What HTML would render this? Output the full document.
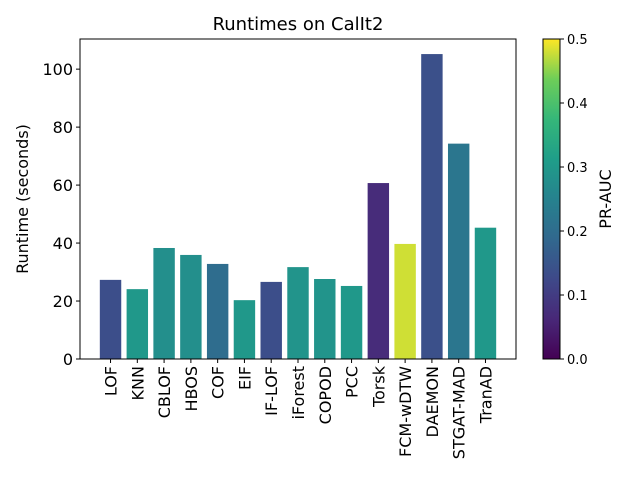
<!DOCTYPE html>
<html><head><meta charset="utf-8"><style>
body{margin:0;background:#fff;}
svg text{font-family:"DejaVu Sans","Liberation Sans",sans-serif;fill:#000;}
</style></head><body>
<svg id="chart" width="640" height="480" xmlns="http://www.w3.org/2000/svg">
<rect width="640" height="480" fill="#fff"/>
<text x="298" y="30" font-size="18" text-anchor="middle">Runtimes on CalIt2</text>
<g id="bars"></g>
<g id="xticks"></g>
<g id="yticks"></g>
<rect x="80" y="39" width="436" height="320" fill="none" stroke="#000" stroke-width="1"/>
<text transform="translate(28,199) rotate(-90)" font-size="16" text-anchor="middle">Runtime (seconds)</text>
<defs><linearGradient id="vir" x1="0" y1="1" x2="0" y2="0">
<stop offset="0" stop-color="#440154"/><stop offset="0.125" stop-color="#482878"/><stop offset="0.25" stop-color="#3e4989"/><stop offset="0.375" stop-color="#31688e"/><stop offset="0.5" stop-color="#26828e"/><stop offset="0.625" stop-color="#1f9e89"/><stop offset="0.75" stop-color="#35b779"/><stop offset="0.875" stop-color="#6ece58"/><stop offset="1" stop-color="#fde725"/>
</linearGradient></defs>
<rect x="543" y="39" width="17" height="320" fill="url(#vir)" stroke="#000" stroke-width="1"/>
<g id="cticks"></g>
<text transform="translate(611,199) rotate(-90)" font-size="16" text-anchor="middle">PR-AUC</text>
</svg>
<script>
const categories=["LOF","KNN","CBLOF","HBOS","COF","EIF","IF-LOF","iForest","COPOD","PCC","Torsk","FCM-wDTW","DAEMON","STGAT-MAD","TranAD"];
const runtimes=[27.3,24.1,38.3,35.9,32.8,20.3,26.6,31.7,27.6,25.2,60.7,39.7,105.2,74.3,45.3];
const prauc=[0.135,0.3,0.28,0.28,0.2,0.3,0.135,0.29,0.29,0.3,0.07,0.48,0.14,0.22,0.3];
const yTicks=[0,20,40,60,80,100];
const cTicks=[0,0.1,0.2,0.3,0.4,0.5];
const NS="http://www.w3.org/2000/svg";
const X0=80,X1=516,Y0=359,Y1=39,YMAX=110.4;
const xs=i=>X0+(i+1.14)*(X1-X0)/16.28;
const ys=v=>Y0-v*(Y0-Y1)/YMAX;
const bw=0.8*(X1-X0)/16.28;
const stops=[[68,1,84],[72,40,120],[62,73,137],[49,104,142],[38,130,142],[31,158,137],[53,183,121],[110,206,88],[253,231,37]];
function vir(t){t=Math.max(0,Math.min(1,t))*8;const i=Math.min(7,Math.floor(t)),f=t-i;const a=stops[i],b=stops[i+1];return "rgb("+a.map((c,k)=>Math.round(c+(b[k]-c)*f)).join(",")+")";}
function mk(tag,attrs,parent){const e=document.createElementNS(NS,tag);for(const k in attrs)e.setAttribute(k,attrs[k]);parent.appendChild(e);return e;}
const gb=document.getElementById("bars"),gx=document.getElementById("xticks"),gy=document.getElementById("yticks"),gc=document.getElementById("cticks");
categories.forEach((c,i)=>{
const r=mk("rect",{x:xs(i)-bw/2,y:ys(runtimes[i]),width:bw,height:Y0-ys(runtimes[i]),fill:vir(prauc[i]/0.5)},gb);


mk("line",{x1:xs(i),x2:xs(i),y1:Y0,y2:Y0+4,stroke:"#000"},gx);
const t=mk("text",{transform:"translate("+(xs(i)+6)+","+(Y0+7)+") rotate(-90)","font-size":"16","text-anchor":"end"},gx);
t.textContent=c;


});
yTicks.forEach(v=>{
mk("line",{x1:X0-4,x2:X0,y1:ys(v),y2:ys(v),stroke:"#000"},gy);
const t=mk("text",{x:X0-7,y:ys(v)+6,"font-size":"16","text-anchor":"end"},gy);
t.textContent=v;


});
cTicks.forEach(v=>{
const y=359-v/0.5*320;
mk("line",{x1:560,x2:564,y1:y,y2:y,stroke:"#000"},gc);
const t=mk("text",{x:567,y:y+5,"font-size":"13"},gc);
t.textContent=v.toFixed(1);


});
</script>
</body></html>
